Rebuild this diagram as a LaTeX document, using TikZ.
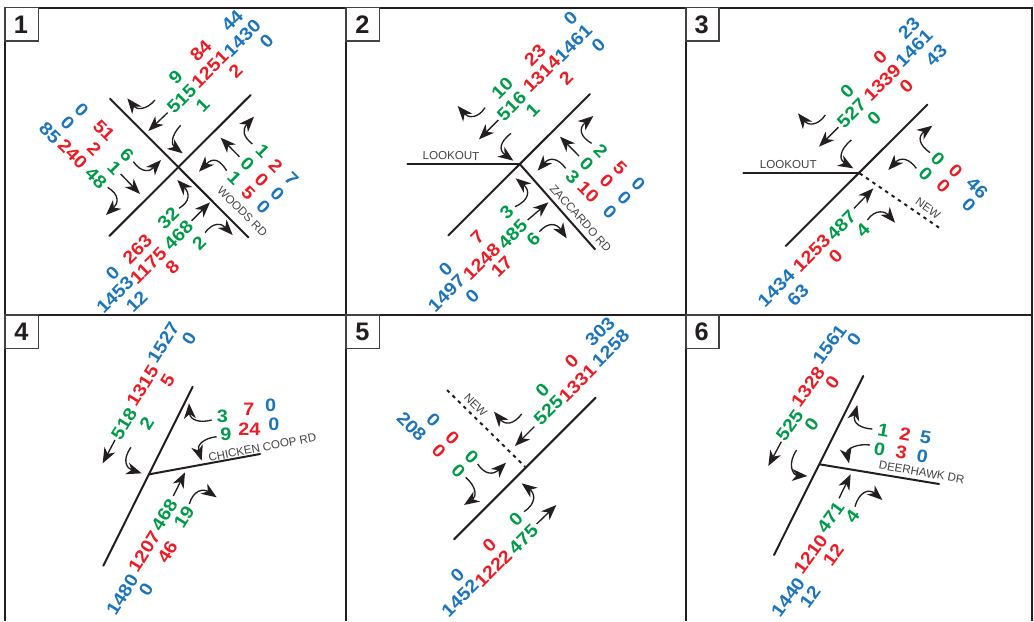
\documentclass[tikz,border=0pt]{standalone}
\usepackage{fontspec}
\setmainfont{Liberation Sans}
\newfontfamily\numfont[FakeStretch=1.1]{Liberation Sans}
\usetikzlibrary{arrows.meta}
\definecolor{tred}{RGB}{237,28,36}
\definecolor{tgreen}{RGB}{0,155,72}
\definecolor{tblue}{RGB}{28,117,188}
\definecolor{tdark}{RGB}{35,31,32}
\newcounter{itemno}
\tikzset{
  numtext/.style={font=\numfont\fontsize{13.5}{16}\selectfont\bfseries,inner sep=0pt},
  r/.style={numtext,text=tred},
  g/.style={numtext,text=tgreen},
  b/.style={numtext,text=tblue},
  roadname/.style={font=\fontsize{8.7}{10}\selectfont,inner sep=0pt,text=tdark!85},
  road/.style={line width=1.5pt,draw=tdark,line cap=round},
  newroad/.style={line width=1.5pt,draw=tdark,dash pattern=on 2.6pt off 3.2pt},
  mover/.style={line width=1pt,draw=tdark,-{Stealth[length=11.5pt,width=9pt,inset=3.5pt]}},
  frameline/.style={line width=1.2pt,draw=tdark},
  numbox/.style={line width=1.1pt,draw=tdark!85,fill=white},
  boxnum/.style={font=\fontsize{19}{20}\selectfont\bfseries,inner sep=0pt,text=tdark},
}
% colour, position, angle, text
\newcommand{\tx}[4]{\stepcounter{itemno}\node[#1,rotate=#3] (t\theitemno) at (#2) {#4};}
\newcommand{\strmove}[2]{\stepcounter{itemno}\coordinate (s\theitemno) at (#1);\coordinate (e\theitemno) at (#2);\draw[mover] (s\theitemno) -- (e\theitemno);}
\newcommand{\turnmove}[4]{\stepcounter{itemno}\coordinate (s\theitemno) at (#1);\coordinate (e\theitemno) at (#4);\draw[mover] (s\theitemno) .. controls (#2) and (#3) .. (e\theitemno);}
\newcommand{\roadseg}[3][road]{\stepcounter{itemno}\coordinate (s\theitemno) at (#2);\coordinate (e\theitemno) at (#3);\draw[#1] (s\theitemno) -- (e\theitemno);}
\newcommand{\nbox}[3]{\stepcounter{itemno}\draw[numbox] (#1) rectangle (#2);}
\begin{document}
\begin{tikzpicture}
\useasboundingbox (0,0) rectangle (775.5pt,-465.75pt);
\begin{scope}[x=0.75pt,y=-0.75pt]
\draw[frameline] (5,621) -- (5,8) -- (1032,8) -- (1032,621);
\draw[frameline] (5,315) -- (1032,315);
\draw[frameline] (346,8) -- (346,621);
\draw[frameline] (686,8) -- (686,621);
\end{scope}

% ---------- panel 1
\begin{scope}[x=0.25pt,y=-0.25pt]
\nbox{15,23}{115,123}{}
\node[boxnum] (n1) at (63,73) {1};
\roadseg{330,296}{745,712}
\roadseg{328,708}{752,285}
\tx{b}{697,62}{45}{44}\tx{b}{727,115}{45}{1430}\tx{b}{800,123}{45}{0}
\tx{r}{602,152}{45}{84}\tx{r}{630,208}{45}{1251}\tx{r}{707,213}{45}{2}
\tx{g}{527,233}{45}{9}\tx{g}{545,297}{45}{515}\tx{g}{608,315}{45}{1}
\tx{b}{150,398}{-45}{85}\tx{b}{203,370}{-45}{0}\tx{b}{245,330}{-45}{0}
\tx{r}{218,462}{-45}{240}\tx{r}{283,447}{-45}{2}\tx{r}{312,392}{-45}{51}
\tx{g}{288,535}{-45}{48}\tx{g}{343,505}{-45}{1}\tx{g}{381,464}{-45}{6}
\tx{g}{788,452}{-45}{1}\tx{g}{742,492}{-45}{0}\tx{g}{703,535}{-45}{1}
\tx{r}{827,497}{-45}{2}\tx{r}{785,540}{-45}{0}\tx{r}{745,578}{-45}{5}
\tx{b}{875,537}{-45}{7}\tx{b}{832,582}{-45}{0}\tx{b}{790,622}{-45}{0}
\tx{g}{505,655}{45}{32}\tx{g}{535,705}{45}{468}\tx{g}{597,728}{45}{2}
\tx{r}{412,748}{45}{263}\tx{r}{445,798}{45}{1175}\tx{r}{517,802}{45}{8}
\tx{b}{338,820}{45}{0}\tx{b}{345,885}{45}{1453}\tx{b}{410,905}{45}{12}
\tx{roadname}{727,635}{-45}{WOODS RD}
\turnmove{465,300}{440,330}{410,330}{382,295}
\strmove{503,338}{445,393}
\turnmove{542,376}{510,410}{515,435}{548,460}
\turnmove{400,485}{425,520}{450,515}{483,480}
\strmove{362,522}{420,582}
\turnmove{323,562}{360,585}{355,610}{318,645}
\turnmove{757,432}{730,410}{725,390}{762,350}
\strmove{718,470}{662,413}
\turnmove{680,512}{660,480}{640,470}{597,515}
\turnmove{537,625}{570,605}{570,580}{532,540}
\strmove{575,662}{630,607}
\turnmove{615,698}{640,665}{665,670}{698,705}
\end{scope}

% ---------- panel 2
\begin{scope}[shift={(258.75pt,0)},x=0.25pt,y=-0.25pt]
\nbox{3,23}{103,123}{}
\node[boxnum] (n2) at (52,73) {2};
\roadseg{187,493}{525,493}
\roadseg{310,706}{735,282}
\roadseg{525,493}{750,748}
\tx{b}{677,55}{45}{0}\tx{b}{685,130}{45}{1461}\tx{b}{760,135}{45}{0}
\tx{r}{570,165}{45}{23}\tx{r}{590,222}{45}{1314}\tx{r}{663,233}{45}{2}
\tx{g}{472,265}{45}{10}\tx{g}{500,318}{45}{516}\tx{g}{563,330}{45}{1}
\tx{g}{767,452}{-45}{2}\tx{g}{725,492}{-45}{0}\tx{g}{683,530}{-45}{3}
\tx{r}{825,503}{-45}{5}\tx{r}{785,543}{-45}{0}\tx{r}{730,575}{-45}{10}
\tx{b}{880,552}{-45}{0}\tx{b}{838,595}{-45}{0}\tx{b}{795,637}{-45}{0}
\tx{g}{485,638}{45}{3}\tx{g}{503,702}{45}{485}\tx{g}{565,718}{45}{6}
\tx{r}{397,712}{45}{7}\tx{r}{410,785}{45}{1248}\tx{r}{470,800}{45}{17}
\tx{b}{302,808}{45}{0}\tx{b}{305,880}{45}{1497}\tx{b}{382,888}{45}{0}
\tx{roadname}{318,467}{-1}{LOOKOUT}
\tx{roadname}{707,655}{-48}{ZACCARDO RD}
\turnmove{420,323}{400,355}{370,355}{338,318}
\strmove{460,360}{402,418}
\turnmove{498,400}{465,425}{460,450}{505,482}
\turnmove{740,430}{705,410}{700,385}{745,348}
\strmove{702,468}{645,410}
\turnmove{662,505}{640,475}{615,470}{578,512}
\turnmove{510,620}{555,600}{555,570}{512,535}
\strmove{548,660}{610,607}
\turnmove{583,695}{610,665}{635,670}{665,715}
\end{scope}

% ---------- panel 3
\begin{scope}[shift={(516.75pt,0)},x=0.25pt,y=-0.25pt]
\nbox{-9,23}{90,123}{}
\node[boxnum] (n3) at (38,73) {3};
\roadseg{163,520}{512,520}
\roadseg{290,738}{715,314}
\roadseg[newroad]{512,520}{750,683}
\tx{b}{660,85}{45}{23}\tx{b}{675,145}{45}{1461}\tx{b}{742,165}{45}{43}
\tx{r}{573,172}{45}{0}\tx{r}{580,248}{45}{1339}\tx{r}{652,258}{45}{0}
\tx{g}{474,273}{45}{0}\tx{g}{488,340}{45}{527}\tx{g}{555,355}{45}{0}
\tx{g}{747,477}{-45}{0}\tx{g}{710,522}{-45}{0}
\tx{r}{800,513}{-45}{0}\tx{r}{763,557}{-45}{0}
\tx{b}{865,565}{-45}{46}\tx{b}{840,615}{-45}{0}
\tx{g}{457,675}{45}{487}\tx{g}{522,690}{45}{4}
\tx{r}{368,760}{45}{1253}\tx{r}{440,770}{45}{0}
\tx{b}{262,865}{45}{1434}\tx{b}{327,885}{45}{63}
\tx{roadname}{298,495}{0}{LOOKOUT}
\tx{roadname}{717,625}{-35}{NEW}
\turnmove{409,345}{385,380}{355,375}{327,340}
\strmove{448,382}{390,440}
\turnmove{487,420}{450,450}{450,480}{493,505}
\turnmove{723,458}{690,435}{685,410}{730,377}
\turnmove{682,505}{660,475}{635,470}{598,510}
\strmove{495,625}{553,565}
\turnmove{535,660}{560,625}{590,635}{618,668}
\end{scope}

% ---------- panel 4
\begin{scope}[shift={(0,-232.5pt)},x=0.25pt,y=-0.25pt]
\nbox{15,15}{115,115}{}
\node[boxnum] (n4) at (64,66) {4};
\roadseg{310,767}{578,230}
\roadseg{447,493}{780,432}
\tx{b}{490,98}{58}{1527}\tx{b}{567,85}{58}{0}
\tx{r}{428,228}{58}{1315}\tx{r}{503,213}{58}{5}
\tx{g}{372,342}{58}{518}\tx{g}{440,340}{58}{2}
\tx{g}{667,318}{0}{3}\tx{g}{678,372}{0}{9}
\tx{r}{747,298}{0}{7}\tx{r}{748,358}{0}{24}
\tx{b}{812,287}{0}{0}\tx{b}{822,343}{0}{0}
\tx{g}{493,615}{58}{468}\tx{g}{552,622}{58}{19}
\tx{r}{433,725}{58}{1207}\tx{r}{502,727}{58}{46}
\tx{b}{367,855}{58}{1480}\tx{b}{438,840}{58}{0}
\tx{roadname}{787,412}{11}{CHICKEN COOP RD}
\strmove{345,390}{308,460}
\turnmove{393,412}{365,450}{380,475}{425,490}
\turnmove{635,330}{600,340}{570,330}{567,280}
\turnmove{650,380}{610,385}{590,405}{605,452}
\strmove{520,558}{555,487}
\turnmove{568,582}{580,540}{610,535}{650,562}
\end{scope}

% ---------- panel 5
\begin{scope}[shift={(258.75pt,-232.5pt)},x=0.25pt,y=-0.25pt]
\nbox{3,15}{103,115}{}
\node[boxnum] (n5) at (52,66) {5};
\roadseg{327,688}{752,263}
\roadseg[newroad]{306,240}{540,470}
\tx{b}{765,65}{45}{303}\tx{b}{797,115}{45}{1258}
\tx{r}{680,153}{45}{0}\tx{r}{698,220}{45}{1331}
\tx{g}{592,242}{45}{0}\tx{g}{610,300}{45}{525}
\tx{b}{200,350}{-45}{208}\tx{b}{265,330}{-45}{0}
\tx{r}{282,423}{-45}{0}\tx{r}{322,385}{-45}{0}
\tx{g}{340,483}{-45}{0}\tx{g}{380,440}{-45}{0}
\tx{g}{513,627}{45}{0}\tx{g}{535,687}{45}{475}
\tx{r}{433,705}{45}{0}\tx{r}{445,775}{45}{1222}
\tx{b}{337,797}{45}{0}\tx{b}{345,865}{45}{1452}
\tx{roadname}{392,285}{-45}{NEW}
\turnmove{530,312}{505,345}{480,345}{447,305}
\strmove{568,350}{510,408}
\turnmove{398,462}{420,495}{445,495}{483,458}
\turnmove{362,502}{395,530}{395,560}{357,585}
\turnmove{537,605}{575,580}{570,550}{530,520}
\strmove{575,642}{634,585}
\end{scope}

% ---------- panel 6
\begin{scope}[shift={(516.75pt,-232.5pt)},x=0.25pt,y=-0.25pt]
\nbox{-9,15}{90,115}{}
\node[boxnum] (n6) at (38,66) {6};
\roadseg{255,735}{523,198}
\roadseg{392,463}{750,522}
\tx{b}{422,103}{54}{1561}\tx{b}{495,88}{54}{0}
\tx{r}{357,230}{54}{1328}\tx{r}{430,217}{54}{0}
\tx{g}{302,345}{54}{525}\tx{g}{368,343}{54}{0}
\tx{g}{583,360}{-10}{1}\tx{g}{572,417}{-10}{0}
\tx{r}{648,372}{-10}{2}\tx{r}{637,427}{-10}{3}
\tx{b}{710,382}{-10}{5}\tx{b}{700,440}{-10}{0}
\tx{g}{425,622}{54}{471}\tx{g}{490,620}{54}{4}
\tx{r}{365,733}{54}{1210}\tx{r}{433,735}{54}{12}
\tx{b}{297,862}{54}{1440}\tx{b}{363,860}{54}{12}
\tx{roadname}{698,487}{-10}{DEERHAWK DR}
\strmove{277,395}{238,468}
\turnmove{323,420}{295,460}{310,495}{355,498}
\turnmove{550,357}{515,355}{490,340}{505,285}
\turnmove{543,405}{510,400}{470,415}{480,460}
\strmove{450,565}{485,493}
\turnmove{498,590}{510,545}{540,535}{580,570}
\end{scope}
\end{tikzpicture}
\end{document}
